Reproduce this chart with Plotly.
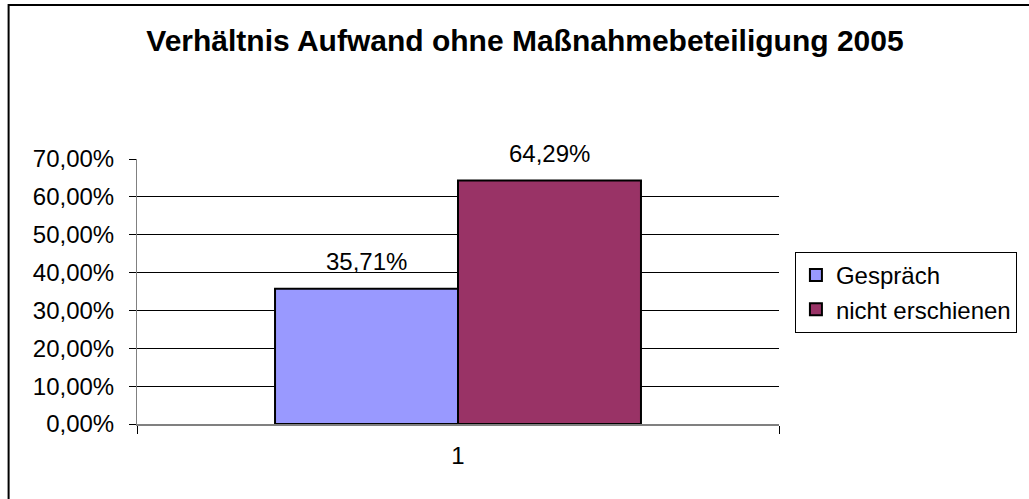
import plotly.graph_objects as go

# ---- data ----
categories = ["1"]
series_names = ["Gespräch", "nicht erschienen"]
gespraech_values = [0.3571]
nicht_erschienen_values = [0.6429]
series_values = [gespraech_values, nicht_erschienen_values]
series_colors = ["#9999FF", "#993366"]
y_tick_values = [0.0, 0.1, 0.2, 0.3, 0.4, 0.5, 0.6, 0.7]
title_text = "Verhältnis Aufwand ohne Maßnahmebeteiligung 2005"

# ---- layout constants ----
W, H = 1029, 499
ML, MR, MT, MB = 137, 247, 159, 75
PW, PH = W - ML - MR, H - MT - MB
FONT = "Liberation Sans, Arial, sans-serif"
BARGAP = 0.43

def px_x(px):
    return (px - ML) / PW

def px_y(py):
    return (H - MB - py) / PH

fig = go.Figure()
for i, (name, vals, col) in enumerate(zip(series_names, series_values, series_colors)):
    fig.add_trace(go.Bar(
        x=categories, y=vals, name=name,
        marker=dict(color=col, line=dict(color="black", width=2)),
        legendgroup=f"g{i}",
    ))

# data labels above bars
n = len(series_names)
bw = (1 - BARGAP) / n
annotations = []
for i, vals in enumerate(series_values):
    for ci, v in enumerate(vals):
        xpos = ci - 0.5 * (1 - BARGAP) + bw * (i + 0.5)
        annotations.append(dict(
            x=xpos, y=v, xref="x", yref="y",
            text=f"{v*100:.2f}%".replace(".", ","),
            showarrow=False, yanchor="bottom", yshift=12,
            font=dict(family=FONT, size=24, color="black"),
        ))

fig.update_layout(
    width=W, height=H,
    margin=dict(l=ML, r=MR, t=MT, b=MB, pad=0),
    paper_bgcolor="white", plot_bgcolor="white",
    separators=",.",
    barmode="group", bargap=BARGAP, bargroupgap=0,
    font=dict(family=FONT, color="black"),
    title=dict(
        text=f"<b>{title_text}</b>",
        x=525 / W, xref="container", xanchor="center",
        y=1 - 40 / H, yref="container", yanchor="middle",
        font=dict(family=FONT, size=30, color="black"),
    ),
    xaxis=dict(
        type="category",
        showgrid=False, showline=True, linecolor="#808080", linewidth=2,
        ticks="outside", tickson="boundaries", ticklen=8, tickcolor="black", tickwidth=1,
        tickfont=dict(family=FONT, size=24, color="black"),
        ticklabelstandoff=9,
    ),
    yaxis=dict(
        range=[0, 0.7], tickvals=y_tick_values, tickformat=".2%",
        showgrid=True, gridcolor="black", gridwidth=1,
        showline=True, linecolor="#808080", linewidth=1,
        ticks="outside", ticklen=7, tickcolor="black", tickwidth=1,
        tickfont=dict(family=FONT, size=24, color="black"),
        ticklabelstandoff=10,
        zeroline=False,
    ),
    legend=dict(
        x=px_x(798), y=px_y(252), xanchor="left", yanchor="top",
        bgcolor="white", bordercolor="black", borderwidth=1,
        font=dict(family=FONT, size=24, color="black"),
        tracegroupgap=6, traceorder="normal",
        itemsizing="constant",
    ),
    annotations=annotations,
    shapes=[dict(
        type="rect", xref="paper", yref="paper",
        x0=px_x(8), x1=px_x(1100), y0=px_y(560), y1=px_y(5),
        line=dict(color="black", width=2), fillcolor="rgba(0,0,0,0)",
        layer="below",
    )],
)

fig.write_html("out.html", config={"displayModeBar": False},
               post_script="document.body.style.margin='0';")
